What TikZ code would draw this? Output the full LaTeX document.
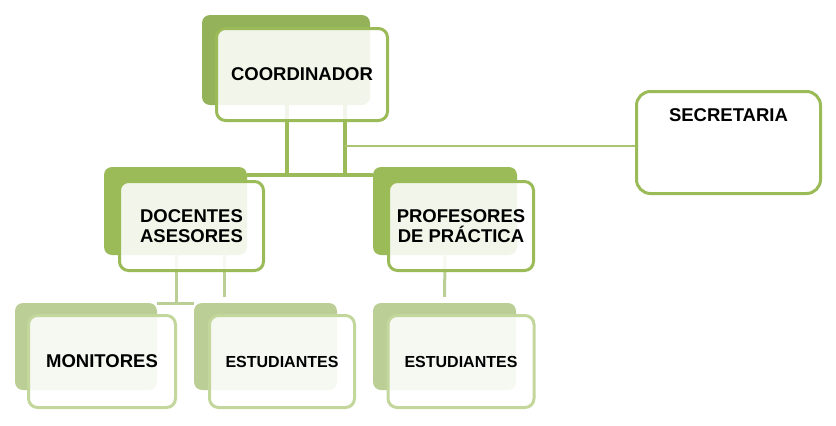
\documentclass[tikz,border=0pt]{standalone}
\usepackage{fontspec}
\setmainfont{Liberation Sans}
\usepackage{xcolor}
\usetikzlibrary{positioning,calc}
\definecolor{orgDark}{HTML}{93B25A}
\definecolor{orgMid}{HTML}{9BBB59}
\definecolor{orgLight}{HTML}{BACE96}
\definecolor{orgEdge}{HTML}{C3D69B}
\tikzset{
  backbox/.style={rounded corners=8pt, fill=orgMid, draw=none, inner sep=0pt},
  frontbox/.style={
    draw=orgMid, line width=3pt, rounded corners=9pt, fill=white,
    fill opacity=0.88, text opacity=1, align=center, inner sep=0pt,
    font=\fontsize{18.5}{20}\selectfont\bfseries
  },
  topback/.style={backbox, fill=orgDark},
  lowback/.style={backbox, fill=orgLight},
  lowbox/.style={frontbox, draw=orgEdge},
  secbox/.style={draw=orgMid, line width=3pt, rounded corners=14pt, fill=white,
    minimum width=184pt, minimum height=102pt},
  conn/.style={line width=4pt, orgMid},
  lowconn/.style={line width=3pt, orgLight},
  thinconn/.style={line width=1.5pt, orgMid!85}
}
\begin{document}
\begin{tikzpicture}[x=1pt, y=-1pt]
  \useasboundingbox (0,0) rectangle (836,426);

  \node[topback, minimum width=168pt, minimum height=90pt] (coordBack) at (286,60) {};
  \node[backbox, minimum width=143pt, minimum height=88pt] (docBack) at (175.5,211) {};
  \node[backbox, minimum width=144pt, minimum height=88pt] (profBack) at (445,211) {};
  \node[lowback, minimum width=142pt, minimum height=87pt] (monBack) at (86,346.5) {};
  \node[lowback, minimum width=143pt, minimum height=87pt] (estABack) at (265.5,346.5) {};
  \node[lowback, minimum width=143pt, minimum height=87pt] (estBBack) at (444.5,346.5) {};

  \coordinate (cA) at (287,175);
  \coordinate (cB) at (345,175);
  \coordinate (dA) at (176,303);
  \coordinate (dB) at (224,303);
  \coordinate (sA) at (345,146);

  \draw[conn] (cA |- coordBack.south) -- (cA);
  \draw[conn] (cB |- coordBack.south) -- (cB);
  \draw[conn] (docBack.east |- cA) -- (profBack.west |- cA);
  \draw[lowconn] (dA |- docBack.south) -- (dA);
  \draw[lowconn] (monBack.east |- dA) -- (estABack.west |- dA);
  \draw[lowconn, shorten >=6pt] (dB |- docBack.south) -- (dB |- estABack.north);
  \draw[lowconn, shorten >=6pt] (profBack.south) -- (estBBack.north);

  \node[frontbox, minimum width=171pt, minimum height=92pt] (coord) at (302,74.5) {COORDINADOR};
  \node[frontbox, minimum width=144pt, minimum height=89pt] (doc) at (191.5,226) {DOCENTES\\ASESORES};
  \node[frontbox, minimum width=145pt, minimum height=89pt] (prof) at (461,226) {PROFESORES\\DE PRÁCTICA};
  \node[lowbox, minimum width=147pt, minimum height=92pt] (mon) at (102,361.5) {MONITORES};
  \node[lowbox, minimum width=145pt, minimum height=92pt, font=\fontsize{16}{18}\selectfont\bfseries] (estA) at (282,361.5) {ESTUDIANTES};
  \node[lowbox, minimum width=146pt, minimum height=92pt, font=\fontsize{16}{18}\selectfont\bfseries] (estB) at (461,361.5) {ESTUDIANTES};

  \node[secbox] (sec) at (728.5,142.5) {};
  \node[font=\fontsize{18.5}{20}\selectfont\bfseries, below=15pt of sec.north] (secText) {SECRETARIA};
  \draw[thinconn] (sA) -- (sA -| sec.west);
\end{tikzpicture}
\end{document}
